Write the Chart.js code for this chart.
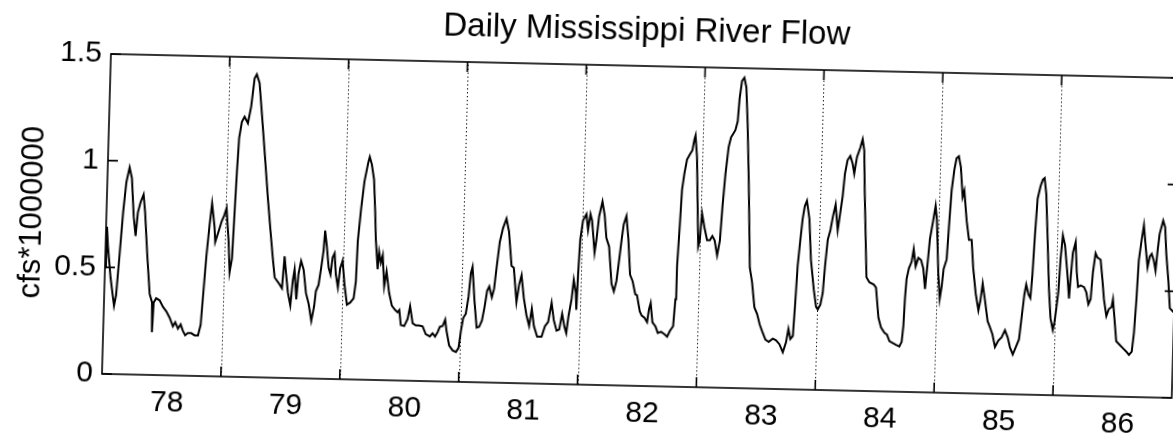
<!DOCTYPE html>
<html>
<head>
<meta charset="utf-8">
<title>Daily Mississippi River Flow</title>
<script src="https://cdn.jsdelivr.net/npm/chart.js@4.4.1/dist/chart.umd.min.js"></script>
<style>
  html, body { margin: 0; padding: 0; background: #fff; overflow: hidden; }
  #flow {
    display: block;
    /* the scanned figure is slightly skewed, tilt the plot the same way */
    transform-origin: 102px 374px;
    transform: matrix(1, 0.0225, -0.028, 1, 0, 0);
  }
</style>
</head>
<body>
<canvas id="flow" width="1173" height="443"></canvas>
<script>
// time in years since 1 Jan 1978, flow in cfs*1000000
const time78 = [0, 0.008, 0.02, 0.05, 0.085, 0.10, 0.12, 0.14, 0.16, 0.184, 0.206, 0.23, 0.25, 0.264, 0.285, 0.308, 0.325, 0.353, 0.382, 0.404, 0.41, 0.418, 0.438, 0.468, 0.497, 0.526, 0.556, 0.585, 0.604, 0.628, 0.65, 0.67, 0.69, 0.713, 0.741, 0.77, 0.798, 0.818, 0.831, 0.85, 0.87, 0.886, 0.912, 0.921, 0.947, 0.972, 0.988, 1.009, 1.034, 1.049];
const flow78 = [0.50, 0.69, 0.60, 0.45, 0.32, 0.37, 0.56, 0.76, 0.90, 0.97, 0.92, 0.74, 0.65, 0.76, 0.81, 0.845, 0.76, 0.56, 0.38, 0.34, 0.20, 0.34, 0.36, 0.35, 0.32, 0.30, 0.27, 0.23, 0.25, 0.22, 0.24, 0.21, 0.19, 0.20, 0.20, 0.19, 0.19, 0.24, 0.37, 0.56, 0.71, 0.81, 0.70, 0.63, 0.68, 0.73, 0.75, 0.79, 0.63, 0.49];

const time79 = [1.066, 1.077, 1.087, 1.098, 1.117, 1.139, 1.168, 1.192, 1.214, 1.232, 1.257, 1.291, 1.322, 1.354, 1.379, 1.407, 1.429, 1.463, 1.493, 1.508, 1.524, 1.544, 1.567, 1.583, 1.595, 1.616, 1.629, 1.648, 1.671, 1.696, 1.721, 1.747, 1.768, 1.779, 1.80, 1.818, 1.834, 1.843, 1.861, 1.881, 1.898, 1.912, 1.928, 1.943, 1.963, 1.978, 1.997];
const flow79 = [0.555, 0.77, 0.96, 1.12, 1.195, 1.22, 1.19, 1.27, 1.40, 1.42, 1.38, 1.195, 1.02, 0.84, 0.71, 0.57, 0.47, 0.445, 0.42, 0.57, 0.49, 0.40, 0.34, 0.46, 0.51, 0.37, 0.49, 0.55, 0.51, 0.40, 0.35, 0.27, 0.34, 0.41, 0.44, 0.52, 0.60, 0.695, 0.62, 0.52, 0.49, 0.57, 0.59, 0.49, 0.43, 0.52, 0.555];

const time80 = [2.018, 2.043, 2.07, 2.098, 2.113, 2.12, 2.14, 2.162, 2.19, 2.201, 2.22, 2.242, 2.259, 2.271, 2.293, 2.302, 2.319, 2.333, 2.352, 2.369, 2.395, 2.421, 2.45, 2.471, 2.485, 2.501, 2.53, 2.557, 2.575, 2.60, 2.627, 2.655, 2.685, 2.713, 2.748, 2.77, 2.792, 2.812, 2.83, 2.853, 2.873, 2.886, 2.912, 2.942, 2.971, 2.992];
const flow80 = [0.445, 0.35, 0.36, 0.38, 0.46, 0.65, 0.80, 0.93, 1.02, 1.045, 1.01, 0.94, 0.79, 0.66, 0.52, 0.60, 0.55, 0.585, 0.44, 0.51, 0.41, 0.35, 0.33, 0.32, 0.33, 0.26, 0.256, 0.29, 0.35, 0.27, 0.26, 0.26, 0.256, 0.22, 0.21, 0.225, 0.21, 0.23, 0.256, 0.26, 0.29, 0.24, 0.17, 0.147, 0.14, 0.16];

const time81 = [3.008, 3.024, 3.045, 3.064, 3.078, 3.091, 3.115, 3.139, 3.16, 3.182, 3.20, 3.219, 3.236, 3.26, 3.277, 3.293, 3.314, 3.338, 3.365, 3.389, 3.418, 3.438, 3.468, 3.486, 3.505, 3.529, 3.555, 3.58, 3.599, 3.62, 3.65, 3.687, 3.713, 3.739, 3.764, 3.786, 3.812, 3.834, 3.855, 3.877, 3.894, 3.909, 3.931, 3.945, 3.965, 3.973, 3.98, 3.99];
const flow81 = [0.24, 0.30, 0.32, 0.40, 0.51, 0.54, 0.38, 0.256, 0.26, 0.29, 0.35, 0.43, 0.45, 0.40, 0.44, 0.54, 0.66, 0.725, 0.77, 0.71, 0.55, 0.54, 0.38, 0.46, 0.506, 0.40, 0.32, 0.27, 0.35, 0.27, 0.22, 0.22, 0.27, 0.29, 0.38, 0.30, 0.25, 0.256, 0.33, 0.27, 0.24, 0.32, 0.40, 0.49, 0.43, 0.35, 0.52, 0.68];

const time82 = [4.009, 4.036, 4.053, 4.07, 4.085, 4.113, 4.126, 4.143, 4.168, 4.19, 4.209, 4.234, 4.263, 4.284, 4.304, 4.321, 4.339, 4.352, 4.373, 4.394, 4.417, 4.44, 4.465, 4.48, 4.507, 4.524, 4.548, 4.571, 4.584, 4.597, 4.616, 4.643, 4.664, 4.691, 4.72, 4.743, 4.764, 4.791, 4.804, 4.81, 4.823, 4.834, 4.85, 4.869, 4.891, 4.912, 4.926, 4.935, 4.952, 4.983, 4.995];
const flow82 = [0.77, 0.80, 0.725, 0.80, 0.77, 0.62, 0.68, 0.79, 0.86, 0.795, 0.69, 0.65, 0.475, 0.44, 0.49, 0.585, 0.69, 0.756, 0.795, 0.69, 0.52, 0.49, 0.43, 0.425, 0.35, 0.33, 0.32, 0.30, 0.36, 0.39, 0.30, 0.28, 0.25, 0.256, 0.245, 0.234, 0.26, 0.284, 0.41, 0.566, 0.75, 0.925, 1.00, 1.066, 1.09, 1.11, 1.16, 1.18, 1.08, 0.66, 0.69];

const time83 = [5.008, 5.031, 5.056, 5.079, 5.10, 5.12, 5.144, 5.164, 5.178, 5.195, 5.216, 5.234, 5.25, 5.269, 5.286, 5.297, 5.313, 5.332, 5.351, 5.37, 5.393, 5.422, 5.444, 5.47, 5.494, 5.519, 5.54, 5.57, 5.598, 5.632, 5.66, 5.689, 5.719, 5.744, 5.761, 5.78, 5.80, 5.811, 5.824, 5.841, 5.855, 5.87, 5.887, 5.912, 5.934, 5.965, 5.988];
const flow83 = [0.815, 0.75, 0.69, 0.69, 0.71, 0.69, 0.62, 0.69, 0.85, 1.00, 1.13, 1.175, 1.19, 1.21, 1.25, 1.36, 1.44, 1.456, 1.41, 1.24, 0.97, 0.566, 0.50, 0.38, 0.35, 0.30, 0.27, 0.23, 0.22, 0.236, 0.228, 0.21, 0.173, 0.22, 0.283, 0.236, 0.25, 0.39, 0.58, 0.705, 0.80, 0.86, 0.885, 0.80, 0.61, 0.47, 0.39];

const time84 = [6.003, 6.024, 6.041, 6.054, 6.071, 6.091, 6.109, 6.129, 6.152, 6.166, 6.186, 6.20, 6.219, 6.241, 6.262, 6.278, 6.297, 6.323, 6.341, 6.357, 6.37, 6.405, 6.431, 6.468, 6.488, 6.515, 6.539, 6.569, 6.591, 6.613, 6.641, 6.669, 6.698, 6.716, 6.727, 6.734, 6.743, 6.76, 6.781, 6.796, 6.816, 6.837, 6.86, 6.881, 6.90, 6.914, 6.93, 6.954, 6.97, 6.984];
const flow84 = [0.377, 0.40, 0.455, 0.58, 0.705, 0.75, 0.815, 0.87, 0.75, 0.815, 0.91, 1.017, 1.08, 1.10, 1.065, 1.017, 1.095, 1.14, 1.18, 1.127, 0.94, 0.533, 0.51, 0.50, 0.486, 0.345, 0.30, 0.275, 0.267, 0.236, 0.228, 0.22, 0.2125, 0.234, 0.31, 0.44, 0.53, 0.58, 0.61, 0.67, 0.59, 0.63, 0.62, 0.58, 0.484, 0.59, 0.72, 0.81, 0.875, 0.81];

const time85 = [7.008, 7.026, 7.04, 7.052, 7.075, 7.087, 7.101, 7.119, 7.135, 7.154, 7.173, 7.195, 7.208, 7.234, 7.258, 7.281, 7.30, 7.327, 7.354, 7.369, 7.384, 7.407, 7.434, 7.455, 7.477, 7.502, 7.529, 7.556, 7.582, 7.607, 7.628, 7.653, 7.676, 7.702, 7.719, 7.737, 7.75, 7.771, 7.788, 7.80, 7.812, 7.826, 7.848, 7.866, 7.88, 7.898, 7.919, 7.942, 7.962, 7.984, 7.997];
const flow85 = [0.56, 0.44, 0.50, 0.58, 0.625, 0.78, 0.95, 1.047, 1.10, 1.11, 1.06, 0.92, 0.95, 0.81, 0.72, 0.72, 0.59, 0.47, 0.39, 0.4375, 0.516, 0.4375, 0.34, 0.3125, 0.28, 0.22, 0.25, 0.266, 0.30, 0.266, 0.22, 0.1875, 0.22, 0.258, 0.36, 0.47, 0.516, 0.47, 0.453, 0.5625, 0.75, 0.92, 0.98, 1.01, 1.017, 0.94, 0.736, 0.50, 0.36, 0.306, 0.345];

const time86 = [8.009, 8.022, 8.033, 8.047, 8.067, 8.092, 8.113, 8.122, 8.135, 8.156, 8.172, 8.186, 8.208, 8.237, 8.257, 8.277, 8.295, 8.308, 8.326, 8.343, 8.37, 8.389, 8.407, 8.431, 8.451, 8.473, 8.483, 8.498, 8.52, 8.549, 8.578, 8.607, 8.63, 8.653, 8.667, 8.68, 8.691, 8.71, 8.726, 8.746, 8.766, 8.782, 8.798, 8.818, 8.834, 8.847, 8.86, 8.887, 8.905, 8.921, 8.944, 8.963, 9.0];
const flow86 = [0.41, 0.486, 0.64, 0.75, 0.705, 0.58, 0.455, 0.55, 0.67, 0.72, 0.58, 0.51, 0.517, 0.51, 0.486, 0.43, 0.455, 0.58, 0.67, 0.65, 0.64, 0.55, 0.455, 0.377, 0.41, 0.42, 0.455, 0.377, 0.26, 0.244, 0.228, 0.2125, 0.197, 0.2125, 0.30, 0.455, 0.64, 0.736, 0.806, 0.705, 0.61, 0.66, 0.673, 0.64, 0.595, 0.69, 0.767, 0.83, 0.80, 0.673, 0.55, 0.42, 0.40];

const yearLabels = ['78', '79', '80', '81', '82', '83', '84', '85', '86'];
const yearBreaks = [1, 2, 3, 4, 5, 6, 7, 8];   // dotted lines between years
const flowTicks = [0, 0.5, 1, 1.5];

const time = [...time78, ...time79, ...time80, ...time81, ...time82, ...time83, ...time84, ...time85, ...time86];
const flow = [...flow78, ...flow79, ...flow80, ...flow81, ...flow82, ...flow83, ...flow84, ...flow85, ...flow86];
const points = time.map((t, i) => ({ x: t, y: flow[i] }));

const FONT = "'Liberation Sans', Arial, Helvetica, sans-serif";

// matlab style box: frame, inward ticks and dotted year separators
const framePlugin = {
  id: 'frame',
  beforeDatasetsDraw(chart) {
    const { ctx, chartArea: a, scales: { x } } = chart;
    ctx.save();
    ctx.strokeStyle = '#000';
    ctx.lineWidth = 1;
    ctx.setLineDash([1.3, 2.6]);
    yearBreaks.forEach(b => {
      const px = Math.round(x.getPixelForValue(b)) + 0.5;
      ctx.beginPath();
      ctx.moveTo(px, a.bottom);
      ctx.lineTo(px, a.top);
      ctx.stroke();
    });
    ctx.restore();
  },
  afterDatasetsDraw(chart) {
    const { ctx, chartArea: a, scales: { x, y } } = chart;
    const len = 10;
    ctx.save();
    ctx.strokeStyle = '#000';
    ctx.lineWidth = 1.6;
    ctx.strokeRect(a.left, a.top, a.right - a.left, a.bottom - a.top);
    ctx.beginPath();
    yearBreaks.forEach(b => {
      const px = x.getPixelForValue(b);
      ctx.moveTo(px, a.bottom); ctx.lineTo(px, a.bottom - len);
      ctx.moveTo(px, a.top); ctx.lineTo(px, a.top + len);
    });
    flowTicks.forEach(v => {
      const py = y.getPixelForValue(v);
      ctx.moveTo(a.left, py); ctx.lineTo(a.left + len, py);
      ctx.moveTo(a.right, py); ctx.lineTo(a.right - len, py);
    });
    ctx.stroke();
    ctx.restore();
  }
};

new Chart(document.getElementById('flow'), {
  type: 'line',
  data: {
    datasets: [{
      data: points,
      borderColor: '#000',
      borderWidth: 2,
      pointRadius: 0,
      tension: 0,
      fill: false
    }]
  },
  options: {
    responsive: false,
    animation: false,
    devicePixelRatio: 1,
    layout: { padding: { left: 0, right: 1, top: 0, bottom: 0 } },
    plugins: {
      legend: { display: false },
      tooltip: { enabled: false },
      title: {
        display: true,
        text: 'Daily Mississippi River Flow',
        color: '#000',
        fullSize: false,
        font: { family: FONT, size: 33, weight: 'normal', lineHeight: 1 },
        padding: { top: 2, bottom: 19 }
      }
    },
    scales: {
      x: {
        type: 'linear',
        min: 0,
        max: 9,
        afterBuildTicks: s => { s.ticks = yearLabels.map((_, i) => ({ value: i + 0.55 })); },
        afterFit: s => { s.height = 69; },
        grid: { display: false, drawTicks: false },
        border: { display: false },
        ticks: {
          color: '#000',
          padding: 10,
          maxRotation: 0,
          autoSkip: false,
          font: { family: FONT, size: 30 },
          callback: (v, i) => yearLabels[i]
        }
      },
      y: {
        min: 0,
        max: 1.5,
        afterBuildTicks: s => { s.ticks = flowTicks.map(v => ({ value: v })); },
        afterFit: s => { s.width = 102; },
        grid: { display: false, drawTicks: false },
        border: { display: false },
        ticks: {
          color: '#000',
          padding: 9,
          font: { family: FONT, size: 30 },
          callback: v => String(v)
        },
        title: {
          display: true,
          text: 'cfs*1000000',
          color: '#000',
          font: { family: FONT, size: 31 },
          padding: { top: 10, bottom: 0 }
        }
      }
    }
  },
  plugins: [framePlugin]
});
</script>
</body>
</html>
